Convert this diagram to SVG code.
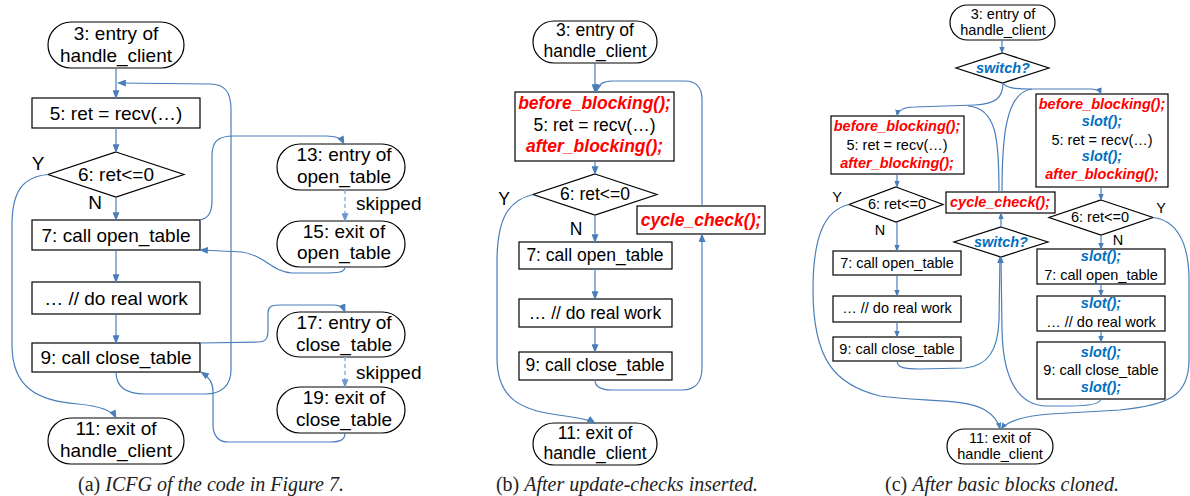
<svg xmlns="http://www.w3.org/2000/svg" width="1190" height="496" viewBox="0 0 1190 496">
<defs>
<marker id="ah" viewBox="0 0 10 8" refX="9" refY="4" markerWidth="9" markerHeight="7" markerUnits="userSpaceOnUse" orient="auto"><path d="M0,0 L10,4 L0,8 z" fill="#4a7ebb"/></marker>
<marker id="ahs" viewBox="0 0 10 8" refX="9" refY="4" markerWidth="7" markerHeight="6" markerUnits="userSpaceOnUse" orient="auto"><path d="M0,0 L10,4 L0,8 z" fill="#4a7ebb"/></marker>
<marker id="ahl" viewBox="0 0 10 8" refX="9" refY="4" markerWidth="9" markerHeight="7" markerUnits="userSpaceOnUse" orient="auto"><path d="M0,0 L10,4 L0,8 z" fill="#6f98d0"/></marker>
<style>
.n{fill:#fff;stroke:#000;stroke-width:1.2}
.t{font-family:"Liberation Sans",Arial,sans-serif;fill:#000;text-anchor:middle}
.a{font-size:19px}.b{font-size:17.5px}.c{font-size:14.5px}
.r{fill:#ff0000;font-weight:bold;font-style:italic}
.u{fill:#0070c0;font-weight:bold;font-style:italic}
.e{fill:none;stroke:#4a7ebb;stroke-width:1.2}
.ea{marker-end:url(#ah)}
.es{marker-end:url(#ahs)}
.d{fill:none;stroke:#8db3e2;stroke-width:1.5;stroke-dasharray:4,3;marker-end:url(#ahl)}
.cap{font-family:"Liberation Serif","Times New Roman",serif;font-size:20px;fill:#222;text-anchor:middle}
</style>
</defs>

<!-- Panel (a) -->
<g id="a_entry"><rect class="n" x="48" y="22" width="136" height="46" rx="23"/><text class="t a" x="116" y="40">3: entry of</text><text class="t a" x="116" y="62">handle_client</text></g>
<g id="a_n5"><rect class="n" x="32" y="98" width="168" height="30"/><text class="t a" x="116" y="120">5: ret = recv(…)</text></g>
<g id="a_n6"><polygon class="n" points="116,152 184,174.5 116,197 48,174.5"/><text class="t a" x="116" y="181">6: ret&lt;=0</text></g>
<g id="a_n7"><rect class="n" x="32" y="220" width="168" height="30"/><text class="t a" x="116" y="242">7: call open_table</text></g>
<g id="a_n8"><rect class="n" x="32" y="282" width="168" height="32"/><text class="t a" x="116" y="305">… // do real work</text></g>
<g id="a_n9"><rect class="n" x="32" y="343" width="168" height="29"/><text class="t a" x="116" y="364">9: call close_table</text></g>
<g id="a_exit"><rect class="n" x="48" y="418" width="136" height="46" rx="23"/><text class="t a" x="116" y="435">11: exit of</text><text class="t a" x="116" y="457">handle_client</text></g>
<g id="a_n13"><rect class="n" x="277" y="144" width="128" height="46" rx="23"/><text class="t a" x="344" y="161">13: entry of</text><text class="t a" x="344" y="183">open_table</text></g>
<g id="a_n15"><rect class="n" x="277" y="221" width="128" height="46" rx="23"/><text class="t a" x="344" y="238">15: exit of</text><text class="t a" x="344" y="259">open_table</text></g>
<g id="a_n17"><rect class="n" x="277" y="312" width="128" height="45" rx="22.5"/><text class="t a" x="344" y="329">17: entry of</text><text class="t a" x="344" y="351">close_table</text></g>
<g id="a_n19"><rect class="n" x="277" y="387" width="128" height="46" rx="23"/><text class="t a" x="344" y="404">19: exit of</text><text class="t a" x="344" y="426">close_table</text></g>
<g id="a_labels">
<text class="t a" x="38" y="170">Y</text>
<text class="t a" x="95" y="209">N</text>
<text class="t a" x="356" y="210" style="text-anchor:start">skipped</text>
<text class="t a" x="356" y="379" style="text-anchor:start">skipped</text>
</g>

<!-- Panel (b) -->
<g id="b_entry"><rect class="n" x="533" y="21" width="124" height="42" rx="21"/><text class="t b" x="595" y="36">3: entry of</text><text class="t b" x="595" y="57">handle_client</text></g>
<g id="b_n5"><rect class="n" x="515" y="92" width="159" height="69"/><text class="t b r" x="594.5" y="109">before_blocking();</text><text class="t b" x="594.5" y="131">5: ret = recv(…)</text><text class="t b r" x="594.5" y="152">after_blocking();</text></g>
<g id="b_n6"><polygon class="n" points="595,174 657,194.5 595,215 533,194.5"/><text class="t b" x="595" y="200">6: ret&lt;=0</text></g>
<g id="b_cc"><rect class="n" x="637" y="206" width="128" height="28"/><text class="t b r" x="701" y="226">cycle_check();</text></g>
<g id="b_n7"><rect class="n" x="519" y="242" width="153" height="27"/><text class="t b" x="595" y="261">7: call open_table</text></g>
<g id="b_n8"><rect class="n" x="519" y="299" width="153" height="28"/><text class="t b" x="595" y="319">… // do real work</text></g>
<g id="b_n9"><rect class="n" x="519" y="352" width="153" height="28"/><text class="t b" x="595" y="371">9: call close_table</text></g>
<g id="b_exit"><rect class="n" x="533" y="423" width="124" height="42" rx="21"/><text class="t b" x="595" y="439">11: exit of</text><text class="t b" x="595" y="459">handle_client</text></g>
<g id="b_labels">
<text class="t b" x="504" y="205">Y</text>
<text class="t b" x="576" y="235">N</text>
</g>

<!-- Panel (c) -->
<g id="c_entry"><rect class="n" x="950" y="5" width="105" height="35" rx="17.5"/><text class="t c" x="1003" y="19">3: entry of</text><text class="t c" x="1003" y="35">handle_client</text></g>
<g id="c_sw1"><polygon class="n" points="1002.5,53 1049,68 1002.5,83 956,68"/><text class="t c u" x="1003" y="73">switch?</text></g>
<g id="c_l5"><rect class="n" x="831" y="116" width="133" height="58"/><text class="t c r" x="897" y="131">before_blocking();</text><text class="t c" x="897" y="150">5: ret = recv(…)</text><text class="t c r" x="897" y="168">after_blocking();</text></g>
<g id="c_r5"><rect class="n" x="1036" y="94" width="132" height="93"/><text class="t c r" x="1102" y="109">before_blocking();</text><text class="t c u" x="1102" y="126">slot();</text><text class="t c" x="1102" y="145">5: ret = recv(…)</text><text class="t c u" x="1102" y="161">slot();</text><text class="t c r" x="1102" y="179">after_blocking();</text></g>
<g id="c_l6"><polygon class="n" points="896,187 943,204.5 896,222 849,204.5"/><text class="t c" x="897" y="209">6: ret&lt;=0</text></g>
<g id="c_cc"><rect class="n" x="946" y="192" width="109" height="21"/><text class="t c r" x="1000" y="207">cycle_check();</text></g>
<g id="c_r6"><polygon class="n" points="1101,200 1153,217.5 1101,235 1049,217.5"/><text class="t c" x="1100" y="222">6: ret&lt;=0</text></g>
<g id="c_sw2"><polygon class="n" points="1001,227 1048,242 1001,257 954,242"/><text class="t c u" x="1001" y="247">switch?</text></g>
<g id="c_l7"><rect class="n" x="833" y="251" width="128" height="24"/><text class="t c" x="897" y="268">7: call open_table</text></g>
<g id="c_l8"><rect class="n" x="833" y="296" width="128" height="26"/><text class="t c" x="897" y="313">… // do real work</text></g>
<g id="c_l9"><rect class="n" x="833" y="337" width="128" height="24"/><text class="t c" x="897" y="354">9: call close_table</text></g>
<g id="c_r7"><rect class="n" x="1037" y="249" width="128" height="35"/><text class="t c u" x="1101" y="261">slot();</text><text class="t c" x="1101" y="280">7: call open_table</text></g>
<g id="c_r8"><rect class="n" x="1037" y="296" width="128" height="35"/><text class="t c u" x="1101" y="308">slot();</text><text class="t c" x="1101" y="327">… // do real work</text></g>
<g id="c_r9"><rect class="n" x="1037" y="342" width="128" height="57"/><text class="t c u" x="1101" y="357">slot();</text><text class="t c" x="1101" y="375">9: call close_table</text><text class="t c u" x="1101" y="392">slot();</text></g>
<g id="c_exit"><rect class="n" x="947" y="429" width="106" height="35" rx="17.5"/><text class="t c" x="1000" y="443">11: exit of</text><text class="t c" x="1000" y="459">handle_client</text></g>
<g id="c_labels">
<text class="t c" x="837" y="202">Y</text>
<text class="t c" x="880" y="235">N</text>
<text class="t c" x="1161" y="213">Y</text>
<text class="t c" x="1118" y="245">N</text>
</g>

<!-- Connectors -->
<g id="connectors">
<!-- (a) -->
<path class="e ea" d="M116,68 L116,98"/>
<path class="e ea" d="M116,128 L116,152"/>
<path class="e ea" d="M116,197 L116,220"/>
<path class="e ea" d="M116,250 L116,282"/>
<path class="e ea" d="M116,314 L116,343"/>
<path class="e ea" d="M116,372 C116,388 128,394 145,394 L205,394 C222,394 231,385 231,370 L231,110 C231,92 225,84 210,84 L118,83"/>
<path class="e ea" d="M48,174.5 C22,177 12,192 12,225 L12,345 C12,388 38,401 78,404 C100,406 112,410 116,418"/>
<path class="e ea" d="M200,220 C209,218 212,212 212,200 L212,156 C212,141 218,136 234,136 L326,136 C336,136 341,138 344,144"/>
<path class="d" d="M345,190 L345,221"/>
<path class="e ea" d="M345,267 C345,273 336,273 322,273 L292,273 C272,272 266,256 242,252 L200,250"/>
<path class="e ea" d="M200,343 L258,342 C266,342 268,338 268,330 L268,313 C268,307 271,305 279,305 L334,305 C340,305 343,307 345,312"/>
<path class="d" d="M345,357 L345,387"/>
<path class="e ea" d="M345,433 C345,440 340,442 330,442 L228,442 C218,442 213,435 213,425 L213,392 C213,383 210,378 201,372"/>
<!-- (b) -->
<path class="e ea" d="M595,63 L595,92"/>
<path class="e ea" d="M595,161 L595,174"/>
<path class="e ea" d="M595,215 L595,242"/>
<path class="e ea" d="M595,269 L595,299"/>
<path class="e ea" d="M595,327 L595,352"/>
<path class="e ea" d="M595,380 C595,387 601,390 612,390 L682,390 C695,390 702,382 702,368 L702,234"/>
<path class="e ea" d="M702,206 L702,100 C702,88 697,81 685,81 L612,81 C603,81 598,84 596,92"/>
<path class="e ea" d="M533,194.5 C510,200 497,216 497,262 L497,358 C497,398 520,410 558,415 C580,418 590,420 595,423"/>
<!-- (c) -->
<path class="e es" d="M1002,40 L1002,53"/>
<path class="e es" d="M1003,83 C1003,98 995,104 975,105 L915,107 C903,107 898,110 897,116"/>
<path class="e es" d="M1003,83 C1006,88 1015,89 1030,89 L1090,89 C1097,89 1100,91 1101,94"/>
<path class="e" d="M999,192 C999,140 997,108 968,106"/>
<path class="e" d="M1002,192 C1002,140 1005,92 1032,89"/>
<path class="e es" d="M897,174 L897,187"/>
<path class="e es" d="M897,222 L897,251"/>
<path class="e es" d="M897,275 L897,296"/>
<path class="e es" d="M897,322 L897,337"/>
<path class="e es" d="M897,361 C897,368 905,369 920,369 L965,368 C988,366 998,350 999,320 L1000,257"/>
<path class="e es" d="M1101,399 C1100,404 1090,406 1070,406 L1045,406 C1018,404 1003,380 1002,330 L1001,257"/>
<path class="e es" d="M1001,227 L1001,213"/>
<path class="e es" d="M1101,187 L1101,200"/>
<path class="e es" d="M1101,235 L1101,249"/>
<path class="e es" d="M1101,284 L1101,296"/>
<path class="e es" d="M1101,331 L1101,342"/>
<path class="e es" d="M849,204.5 C825,210 813,235 813,290 C813,360 835,385 880,396 C920,402 965,398 985,410 C993,415 998,420 1000,429"/>
<path class="e es" d="M1153,217.5 C1175,220 1189,240 1189,280 L1189,360 C1189,395 1170,405 1120,410 L1050,414 C1025,416 1008,420 1001,429"/>
</g>

<!-- Captions -->
<g id="captions">
<text class="cap" x="211" y="491">(a) <tspan font-style="italic">ICFG of the code in Figure 7.</tspan></text>
<text class="cap" x="627" y="491">(b) <tspan font-style="italic">After update-checks inserted.</tspan></text>
<text class="cap" x="1002" y="491">(c) <tspan font-style="italic">After basic blocks cloned.</tspan></text>
</g>
</svg>
